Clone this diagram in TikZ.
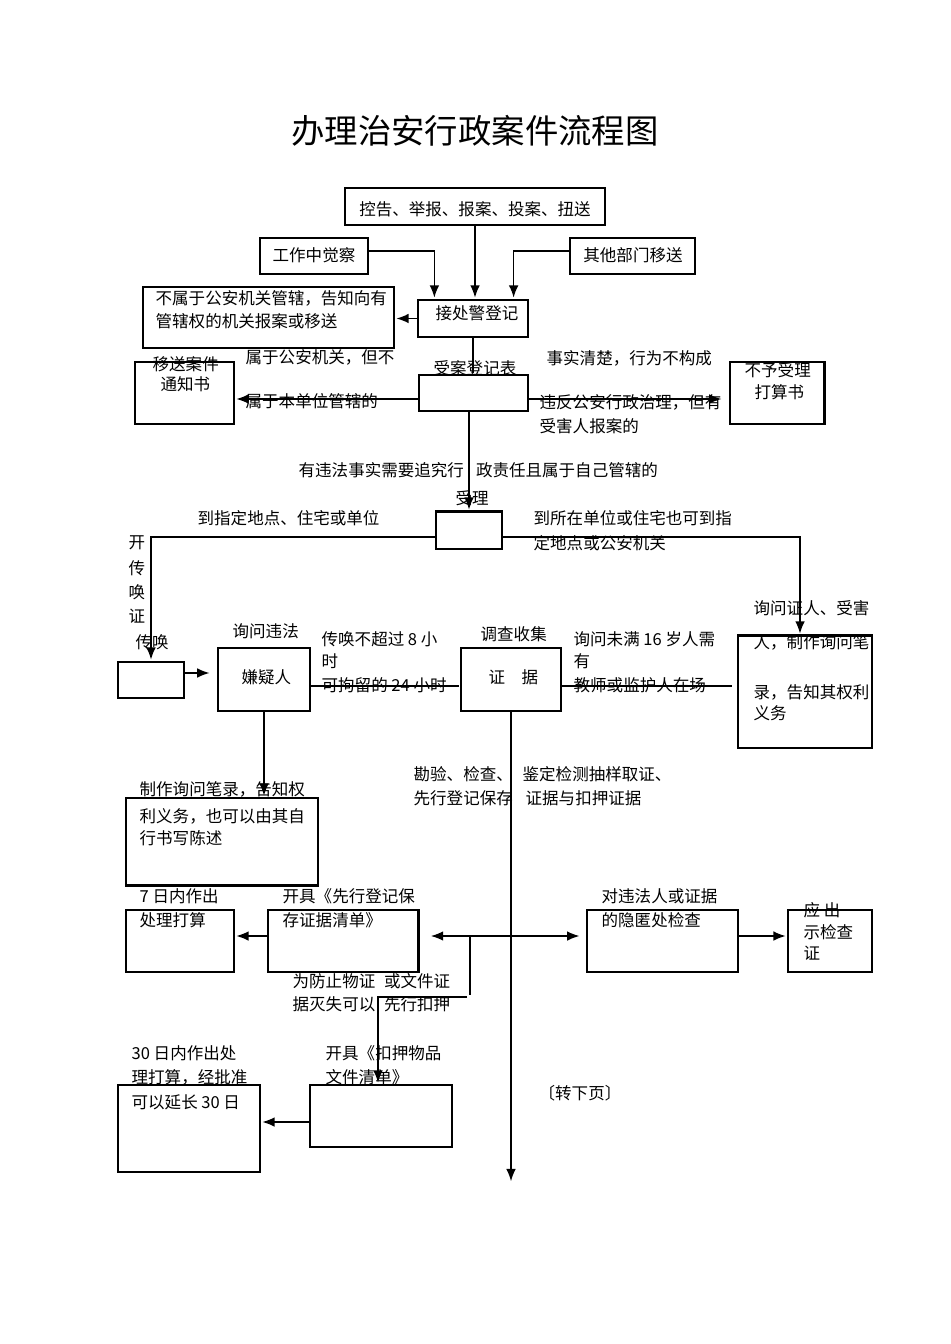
\documentclass[tikz,border=0pt]{standalone}
\usepackage{fontspec}
\setmainfont{Noto Sans CJK SC}
\usetikzlibrary{arrows.meta,fit}

\begin{document}
\begin{tikzpicture}[->,>={Latex[length=7pt,width=5.5pt]},shorten >=1pt,x=0.02cm,y=-0.02cm,thick,
  box/.style={draw,rectangle,inner sep=0pt,line width=0.7pt},
  txt/.style={anchor=west,inner sep=0pt,font=\fontsize{9.4}{11}\selectfont},
  heavy side/.style={-,shorten >=0pt,line width=1.6pt}]

  \useasboundingbox (0,0) rectangle (950,1344);

  \node[font=\fontsize{19}{22}\selectfont] (title) at (475,131) {办理治安行政案件流程图};

  % boxes
  \node[box,fit={(345,188) (605,225)}] (report) {};
  \node[box,fit={(260,238) (368,274)}] (patrol) {};
  \node[box,fit={(570,238) (695,274)}] (other) {};
  \node[box,fit={(418,300) (528,337)}] (reg) {};
  \node[box,fit={(143,287) (394,348)}] (notours) {};
  \node[box,fit={(135,362) (234,424)}] (transfer) {};
  \node[box,fit={(419,375) (528,411)}] (accept) {};
  \node[box,fit={(730,362) (824,424)}] (refuse) {};
  \node[box,fit={(436,512) (502,549)}] (handle) {};
  \node[box,fit={(118,662) (184,698)}] (summon) {};
  \node[box,fit={(218,648) (310,711)}] (suspect) {};
  \node[box,fit={(461,648) (561,711)}] (evid) {};
  \node[box,fit={(738,636) (872,748)}] (witness) {};
  \node[box,fit={(126,798) (318,885)}] (record) {};
  \node[box,fit={(126,910) (234,972)}] (seven) {};
  \node[box,fit={(268,910) (418,972)}] (keep) {};
  \node[box,fit={(587,910) (738,972)}] (search) {};
  \node[box,fit={(788,910) (872,972)}] (show) {};
  \node[box,fit={(118,1085) (260,1172)}] (thirty) {};
  \node[box,fit={(310,1085) (452,1147)}] (seize) {};

  % heavier sides
  \draw[heavy side] (refuse.north east) -- (refuse.south east);
  \draw[heavy side] (handle.north west) -- (handle.north east);
  \draw[heavy side] (witness.north west) -- (witness.north east);
  \draw[heavy side] (record.south west) -- (record.south east);
  \draw[heavy side] (keep.north east) -- (keep.south east);

  % texts
  \node[txt,anchor=center] (t_rep) at (475,209) {控告、举报、报案、投案、扭送};
  \node[txt,anchor=center] (t_pat) at (314,255) {工作中觉察};
  \node[txt,anchor=center] (t_oth) at (633,255) {其他部门移送};
  \node[txt] (t_reg) at (435,313) {接处警登记};
  \node[txt] (t_no1) at (155,298) {不属于公安机关管辖，告知向有};
  \node[txt] (t_no2) at (155,321) {管辖权的机关报案或移送};
  \node[txt] (t_tr1) at (152,364) {移送案件};
  \node[txt] (t_tr2) at (160,384) {通知书};
  \node[txt] (t_acc) at (433,368) {受案登记表};
  \node[txt] (t_rf1) at (744,370) {不予受理};
  \node[txt] (t_rf2) at (754,392) {打算书};
  \node[txt] (t_a1) at (245,357) {属于公安机关，但不};
  \node[txt] (t_a2) at (245,401) {属于本单位管辖的};
  \node[txt] (t_b1) at (546,358) {事实清楚，行为不构成};
  \node[txt] (t_b2) at (539,402) {违反公安行政治理，但有};
  \node[txt] (t_b3) at (539,426) {受害人报案的};
  \node[txt] (t_c) at (298,470) {有违法事实需要追究行\hspace{7pt}政责任且属于自己管辖的};
  \node[txt] (t_hd) at (455,498) {受理};
  \node[txt] (t_d) at (197,518) {到指定地点、住宅或单位};
  \node[txt] (t_e1) at (533,518) {到所在单位或住宅也可到指};
  \node[txt] (t_e2) at (533,543) {定地点或公安机关};
  \node[txt] (t_v1) at (128,543) {开};
  \node[txt] (t_v2) at (128,568) {传};
  \node[txt] (t_v3) at (128,592) {唤};
  \node[txt] (t_v4) at (128,616) {证};
  \node[txt] (t_v5) at (135,642) {传唤};
  \node[txt] (t_f) at (232,631) {询问违法};
  \node[txt] (t_sus) at (241,677) {嫌疑人};
  \node[txt] (t_g1) at (321,639) {传唤不超过 8 小};
  \node[txt] (t_g2) at (321,661) {时};
  \node[txt] (t_g3) at (321,685) {可拘留的 24 小时};
  \node[txt] (t_h) at (480,634) {调查收集};
  \node[txt] (t_ev) at (488,677) {证\quad 据};
  \node[txt] (t_i1) at (573,639) {询问未满 16 岁人需};
  \node[txt] (t_i2) at (573,661) {有};
  \node[txt] (t_i3) at (573,685) {教师或监护人在场};
  \node[txt] (t_j1) at (753,608) {询问证人、受害};
  \node[txt] (t_j2) at (753,642) {人，制作询问笔};
  \node[txt] (t_j3) at (753,692) {录，告知其权利};
  \node[txt] (t_j4) at (753,713) {义务};
  \node[txt] (t_k1) at (413,774) {勘验、检查、};
  \node[txt] (t_k2) at (413,798) {先行登记保存};
  \node[txt] (t_l1) at (522,774) {鉴定检测抽样取证、};
  \node[txt] (t_l2) at (525,798) {证据与扣押证据};
  \node[txt] (t_m1) at (139,789) {制作询问笔录，告知权};
  \node[txt] (t_m2) at (139,816) {利义务，也可以由其自};
  \node[txt] (t_m3) at (139,838) {行书写陈述};
  \node[txt] (t_n1) at (139,896) {7 日内作出};
  \node[txt] (t_n2) at (139,920) {处理打算};
  \node[txt] (t_o1) at (282,896) {开具《先行登记保};
  \node[txt] (t_o2) at (282,920) {存证据清单》};
  \node[txt] (t_p1) at (601,896) {对违法人或证据};
  \node[txt] (t_p2) at (601,920) {的隐匿处检查};
  \node[txt] (t_q1) at (803,910) {应 出};
  \node[txt] (t_q2) at (803,932) {示检查};
  \node[txt] (t_q3) at (803,953) {证};
  \node[txt] (t_r1) at (292,981) {为防止物证\hspace{5pt}或文件证};
  \node[txt] (t_r2) at (292,1004) {据灭失可以\hspace{5pt}先行扣押};
  \node[txt] (t_s1) at (131,1053) {30 日内作出处};
  \node[txt] (t_s2) at (131,1077) {理打算，经批准};
  \node[txt] (t_s3) at (131,1102) {可以延长 30 日};
  \node[txt] (t_t1) at (325,1053) {开具《扣押物品};
  \node[txt] (t_t2) at (325,1077) {文件清单》};
  \node[txt] (t_u) at (538,1093) {〔转下页〕};

  \coordinate (fork) at (470,936);
  \coordinate (bend) at (470,997);
  \coordinate (cont) at (512,1183);

  % connectors
  \draw (report.south) -- (report.south |- reg.north);
  \draw ([yshift=0.1cm]patrol.east) -| ([xshift=0.34cm]reg.north west);
  \draw ([yshift=0.1cm]other.west) -| ([xshift=-0.3cm]reg.north east);
  \draw (reg.west) -- (reg.west -| notours.east);
  \draw[-] (reg.south) -- (reg.south |- accept.north);
  \draw ([yshift=-0.12cm]accept.west) -- ([yshift=-0.12cm]accept.west -| transfer.east);
  \draw[shorten >=4.5pt] ([yshift=-0.12cm]accept.east) -- ([yshift=-0.12cm]accept.east -| refuse.west);
  \draw (handle.north |- accept.south) -- (handle.north);
  \draw ([yshift=-0.13cm]handle.west) -| (summon.north);
  \draw ([yshift=-0.13cm]handle.east) -| ([xshift=-0.1cm]witness.north);
  \draw[shorten >=4.5pt] ([yshift=0.14cm]summon.east) -- ([yshift=0.14cm]summon.east -| suspect.west);
  \draw[-] ([yshift=-0.13cm]suspect.east) -- ([yshift=-0.13cm]suspect.east -| evid.west);
  \draw[-,shorten >=3pt] ([yshift=-0.13cm]evid.east) -- ([yshift=-0.13cm]evid.east -| witness.west);
  \draw (suspect.south) -- (suspect.south |- record.north);
  \draw (evid.south) -- (evid.south |- cont);
  \draw[<->,shorten <=7pt,shorten >=4pt] ([yshift=0.1cm]keep.east) -- ([yshift=0.1cm]keep.east -| search.west);
  \draw[-] (fork) -- (bend);
  \draw ([xshift=-0.06cm]bend) -| ([xshift=-0.06cm]seize.north);
  \draw ([yshift=0.1cm]keep.west) -- ([yshift=0.1cm]keep.west -| seven.east);
  \draw ([yshift=0.1cm]search.east) -- ([yshift=0.1cm]search.east -| show.west);
  \draw ([yshift=-0.12cm]seize.west) -- ([yshift=-0.12cm]seize.west -| thirty.east);

\end{tikzpicture}
\end{document}
